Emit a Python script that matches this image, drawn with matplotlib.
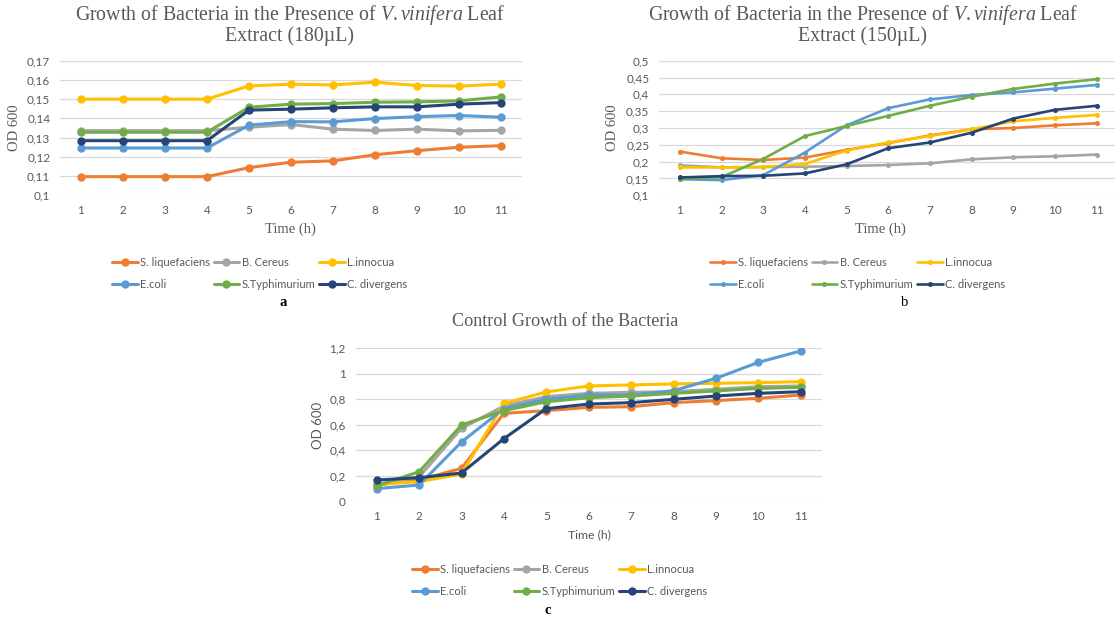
import matplotlib
matplotlib.use("Agg")
import matplotlib.pyplot as plt
from matplotlib.ticker import FixedLocator, FixedFormatter

plt.rcParams['mathtext.fontset'] = 'custom'
plt.rcParams['mathtext.rm'] = 'Liberation Serif'
plt.rcParams['mathtext.it'] = 'Liberation Serif:italic'

W, H = 1115, 617

time = [1, 2, 3, 4, 5, 6, 7, 8, 9, 10, 11]
names = ["S. liquefaciens", "B. Cereus", "L.innocua", "E.coli", "S.Typhimurium", "C. divergens"]
colors = ["#ED7D31", "#A5A5A5", "#FFC000", "#5B9BD5", "#70AD47", "#264478"]

# Panel a: 180 µL
a_sliq = [0.1097, 0.1097, 0.1097, 0.1097, 0.1144, 0.1172, 0.1179, 0.1211, 0.1232, 0.1250, 0.1258]
a_bcer = [0.1336, 0.1336, 0.1336, 0.1336, 0.1354, 0.1368, 0.1344, 0.1337, 0.1344, 0.1335, 0.1338]
a_linn = [0.1500, 0.1500, 0.1500, 0.1500, 0.1569, 0.1578, 0.1574, 0.1588, 0.1571, 0.1568, 0.1578]
a_ecoli = [0.1246, 0.1246, 0.1246, 0.1246, 0.1365, 0.1383, 0.1382, 0.1399, 0.1409, 0.1415, 0.1406]
a_styph = [0.1328, 0.1328, 0.1328, 0.1328, 0.1458, 0.1474, 0.1477, 0.1484, 0.1486, 0.1491, 0.1512]
a_cdiv = [0.1284, 0.1284, 0.1284, 0.1284, 0.1443, 0.1448, 0.1455, 0.1460, 0.1460, 0.1474, 0.1482]

# Panel b: 150 µL
b_sliq = [0.230, 0.210, 0.205, 0.212, 0.235, 0.255, 0.278, 0.296, 0.300, 0.308, 0.314]
b_bcer = [0.189, 0.183, 0.184, 0.185, 0.187, 0.190, 0.195, 0.207, 0.213, 0.216, 0.221]
b_linn = [0.183, 0.183, 0.184, 0.193, 0.233, 0.257, 0.276, 0.296, 0.320, 0.330, 0.339]
b_ecoli = [0.148, 0.145, 0.160, 0.227, 0.308, 0.359, 0.385, 0.398, 0.406, 0.417, 0.428]
b_styph = [0.148, 0.154, 0.208, 0.276, 0.306, 0.336, 0.366, 0.393, 0.416, 0.432, 0.445]
b_cdiv = [0.153, 0.157, 0.158, 0.165, 0.192, 0.240, 0.257, 0.286, 0.328, 0.354, 0.366]

# Panel c: control
c_sliq = [0.125, 0.165, 0.257, 0.689, 0.710, 0.736, 0.741, 0.773, 0.789, 0.807, 0.833]
c_bcer = [0.130, 0.190, 0.571, 0.747, 0.820, 0.846, 0.854, 0.859, 0.878, 0.898, 0.904]
c_linn = [0.130, 0.152, 0.212, 0.767, 0.857, 0.904, 0.912, 0.920, 0.925, 0.930, 0.938]
c_ecoli = [0.097, 0.126, 0.464, 0.726, 0.800, 0.833, 0.833, 0.867, 0.964, 1.090, 1.179]
c_styph = [0.120, 0.230, 0.597, 0.710, 0.780, 0.812, 0.825, 0.846, 0.865, 0.885, 0.893]
c_cdiv = [0.165, 0.183, 0.220, 0.490, 0.726, 0.762, 0.773, 0.799, 0.825, 0.846, 0.859]

a_ticks = [0.10, 0.11, 0.12, 0.13, 0.14, 0.15, 0.16, 0.17]
a_labels = ["0,1", "0,11", "0,12", "0,13", "0,14", "0,15", "0,16", "0,17"]
b_ticks = [0.10, 0.15, 0.20, 0.25, 0.30, 0.35, 0.40, 0.45, 0.50]
b_labels = ["0,1", "0,15", "0,2", "0,25", "0,3", "0,35", "0,4", "0,45", "0,5"]
c_ticks = [0.0, 0.2, 0.4, 0.6, 0.8, 1.0, 1.2]
c_labels = ["0", "0,2", "0,4", "0,6", "0,8", "1", "1,2"]

SERIF = "Liberation Serif"
SANS = "Lato"
GREY_TXT = "#595959"

fig = plt.figure(figsize=(W / 100, H / 100), dpi=100)
fig.patch.set_facecolor("white")


def px_axes(left, top, right, bottom):
    return fig.add_axes([left / W, 1 - bottom / H, (right - left) / W, (bottom - top) / H])


def draw_panel(ax, series, ticks, labels, ms, lw):
    for vals, name, col in zip(series, names, colors):
        ax.plot(time, vals, color=col, lw=lw, marker="o", ms=ms, label=name,
                solid_capstyle="round", zorder=3)
    ax.set_xlim(0.5, 11.5)
    ax.set_ylim(ticks[0], ticks[-1])
    ax.yaxis.set_major_locator(FixedLocator(ticks))
    ax.yaxis.set_major_formatter(FixedFormatter(labels))
    ax.set_xticks(time)
    ax.set_xticklabels([str(t) for t in time])
    for s in ax.spines.values():
        s.set_visible(False)
    ax.grid(axis="y", color="#D9D9D9", lw=0.9, zorder=0)
    ax.tick_params(length=0, labelsize=8.5, labelcolor=GREY_TXT, pad=7)
    for lab in ax.get_xticklabels() + ax.get_yticklabels():
        lab.set_fontfamily(SANS)


def add_legend(series_axes, x0, y_row1):
    handles, labs = series_axes.get_legend_handles_labels()
    order = [0, 3, 1, 4, 2, 5]
    leg = fig.legend([handles[i] for i in order], [labs[i] for i in order],
                     ncol=3, loc="upper left",
                     bbox_to_anchor=(x0 / W, 1 - (y_row1 - 6) / H),
                     frameon=False, prop={"family": SANS, "size": 8.0},
                     handlelength=2.3, handletextpad=0.25, columnspacing=0.3,
                     labelspacing=0.95, borderaxespad=0, borderpad=0)
    for t in leg.get_texts():
        t.set_color(GREY_TXT)
    return leg


# ---- Panel a ----
ax_a = px_axes(60, 60.7, 522, 195.3)
draw_panel(ax_a, [a_sliq, a_bcer, a_linn, a_ecoli, a_styph, a_cdiv], a_ticks, a_labels, ms=5, lw=2.2)
fig.text(290 / W, 1 - 15 / H, r"Growth of Bacteria in the Presence of $\it{V.vinifera}$ Leaf",
         ha="center", va="center", family=SERIF, fontsize=14.3, color=GREY_TXT)
fig.text(290 / W, 1 - 36 / H, "Extract (180µL)", ha="center", va="center",
         family=SERIF, fontsize=14.3, color=GREY_TXT)
fig.text(14 / W, 1 - 128 / H, "OD 600", rotation=90, ha="center", va="center",
         family=SERIF, fontsize=10.5, color=GREY_TXT)
fig.text(290 / W, 1 - 229 / H, "Time (h)", ha="center", va="center",
         family=SERIF, fontsize=10.5, color=GREY_TXT)
add_legend(ax_a, 112, 263)
fig.text(283 / W, 1 - 303 / H, "a", ha="center", va="center", family=SERIF,
         fontsize=10.5, fontweight="bold", color="black")

# ---- Panel b ----
ax_b = px_axes(659, 60.7, 1117.5, 195.3)
draw_panel(ax_b, [b_sliq, b_bcer, b_linn, b_ecoli, b_styph, b_cdiv], b_ticks, b_labels, ms=2.6, lw=1.9)
fig.text(863 / W, 1 - 15 / H, r"Growth of Bacteria in the Presence of $\it{V.vinifera}$ Leaf",
         ha="center", va="center", family=SERIF, fontsize=14.3, color=GREY_TXT)
fig.text(863 / W, 1 - 36 / H, "Extract (150µL)", ha="center", va="center",
         family=SERIF, fontsize=14.3, color=GREY_TXT)
fig.text(613 / W, 1 - 128 / H, "OD 600", rotation=90, ha="center", va="center",
         family=SERIF, fontsize=10.5, color=GREY_TXT)
fig.text(880 / W, 1 - 229 / H, "Time (h)", ha="center", va="center",
         family=SERIF, fontsize=10.5, color=GREY_TXT)
add_legend(ax_b, 710, 263)
fig.text(905 / W, 1 - 303 / H, "b", ha="center", va="center", family=SERIF,
         fontsize=10.5, color="black")

# ---- Panel c ----
ax_c = px_axes(355.5, 348.3, 822, 501)
draw_panel(ax_c, [c_sliq, c_bcer, c_linn, c_ecoli, c_styph, c_cdiv], c_ticks, c_labels, ms=5, lw=2.2)
fig.text(565 / W, 1 - 321 / H, "Control Growth of the Bacteria", ha="center", va="center",
         family=SERIF, fontsize=13.1, color=GREY_TXT)
fig.text(318 / W, 1 - 425 / H, "OD 600", rotation=90, ha="center", va="center",
         family=SANS, fontsize=9.5, color=GREY_TXT)
fig.text(589 / W, 1 - 535 / H, "Time (h)", ha="center", va="center",
         family=SANS, fontsize=8.8, color=GREY_TXT)
add_legend(ax_c, 412, 570)
fig.text(548 / W, 1 - 610 / H, "c", ha="center", va="center", family=SERIF,
         fontsize=10.5, fontweight="bold", color="black")

fig.savefig("out.png", dpi=100, facecolor="white")
